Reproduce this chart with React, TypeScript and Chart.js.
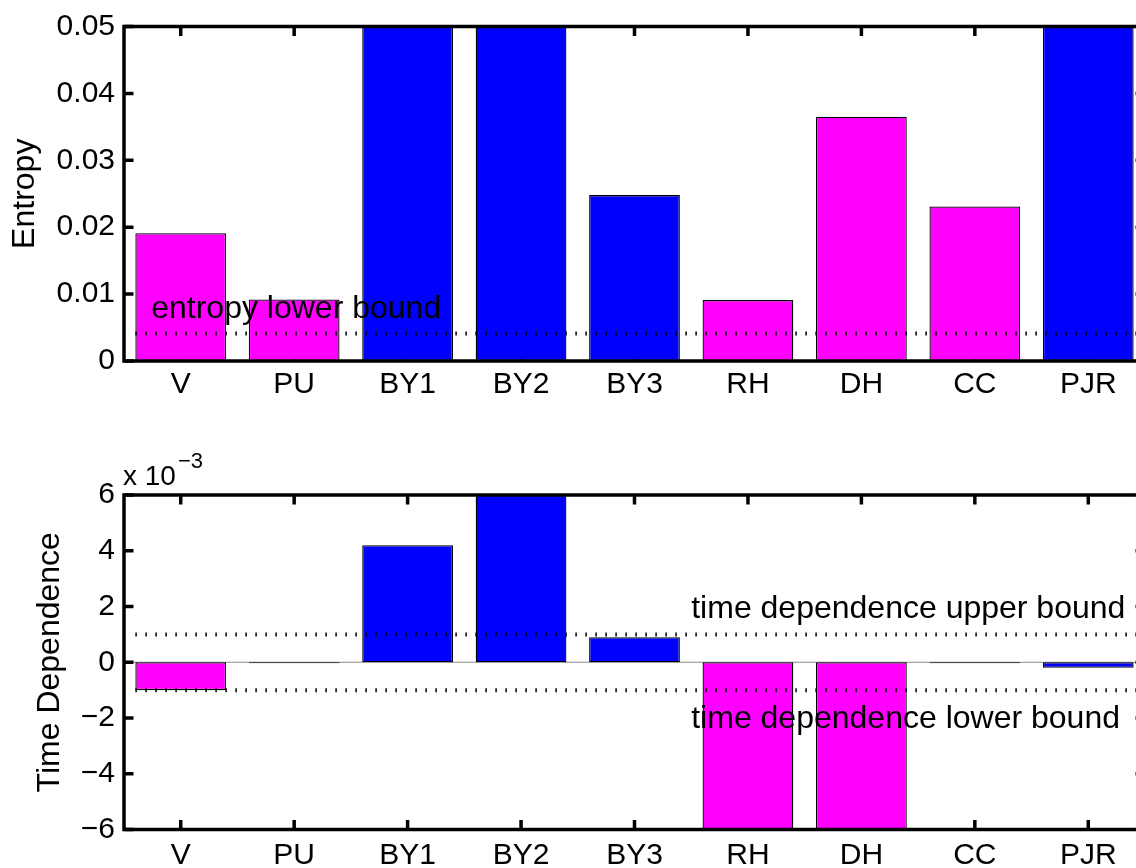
import React, { useEffect, useRef } from 'react';
import { Chart, registerables } from 'chart.js';

Chart.register(...registerables);

// ---------- data ----------
const categories = ['V', 'PU', 'BY1', 'BY2', 'BY3', 'RH', 'DH', 'CC', 'PJR'];
const barColors = ['#ff00ff', '#ff00ff', '#0000ff', '#0000ff', '#0000ff', '#ff00ff', '#ff00ff', '#ff00ff', '#0000ff'];

// entropy (BY1, BY2, PJR exceed the axis limit of 0.05)
const entropyValues = [0.0191, 0.0092, 0.062, 0.058, 0.0248, 0.0091, 0.0365, 0.0231, 0.071];
const entropyTicks = [0, 0.01, 0.02, 0.03, 0.04, 0.05];
const entropyLowerBound = 0.0041;

// time dependence (BY2, RH, DH exceed the axis limits of +/-6e-3)
const timeDependenceValues = [-0.001, -0.00004, 0.0042, 0.0068, 0.0009, -0.0071, -0.0069, -0.00004, -0.0002];
const timeDependenceTicks = [-0.006, -0.004, -0.002, 0, 0.002, 0.004, 0.006];
const timeUpperBound = 0.001;
const timeLowerBound = -0.001;

const FONT_FAMILY = '"Liberation Sans", Arial, Helvetica, sans-serif';

type TextItem = { text: string; x: number; y: number };

type PanelCfg = {
  values: number[];
  ticks: number[];
  min: number;
  max: number;
  title: string;
  titlePad: number;
  padTop: number;
  xHeight: number;
  xLabelPad: number;
  format: (v: number) => string;
  bounds: number[];
  boundStart: number;
  texts: TextItem[];
  baseline: boolean;
  exponent: boolean;
};

const entropyPanel: PanelCfg = {
  values: entropyValues,
  ticks: entropyTicks,
  min: 0,
  max: 0.05,
  title: 'Entropy',
  titlePad: 6,
  padTop: 26.5,
  xHeight: 73,
  xLabelPad: 6,
  format: (v) => (Math.abs(v) < 1e-12 ? '0' : v.toFixed(2)),
  bounds: [entropyLowerBound],
  boundStart: -0.4,
  texts: [{ text: 'entropy lower bound', x: -0.26, y: 0.00643 }],
  baseline: false,
  exponent: false,
};

const timePanel: PanelCfg = {
  values: timeDependenceValues,
  ticks: timeDependenceTicks,
  min: -0.006,
  max: 0.006,
  title: 'Time Dependence',
  titlePad: 30.5,
  padTop: 61,
  xHeight: 38.5,
  xLabelPad: 8.5,
  format: (v) => {
    const n = Math.round(v * 1000);
    return n < 0 ? '\u2212' + Math.abs(n) : String(n);
  },
  bounds: [timeUpperBound, timeLowerBound],
  boundStart: -0.4,
  texts: [
    { text: 'time dependence upper bound', x: 4.5, y: 0.00159 },
    { text: 'time dependence lower bound', x: 4.5, y: -0.00236 },
  ],
  baseline: true,
  exponent: true,
};

function makePlugin(cfg: PanelCfg) {
  const TICK = 9.5;
  const AXW = 3.5;
  return {
    id: 'matlabAxes',
    beforeDatasetsDraw(chart: any) {
      const { ctx, chartArea: a, scales } = chart;
      const x = scales.x;
      const y = scales.y;
      ctx.save();
      if (cfg.baseline) {
        const py = y.getPixelForValue(0);
        ctx.strokeStyle = '#8c8c8c';
        ctx.lineWidth = 1;
        ctx.beginPath();
        ctx.moveTo(a.left, py);
        ctx.lineTo(a.right, py);
        ctx.stroke();
      }
      ctx.strokeStyle = '#000';
      ctx.lineWidth = AXW;
      ctx.beginPath();
      y.ticks.forEach((t: any) => {
        const py = y.getPixelForValue(t.value);
        ctx.moveTo(a.left, py);
        ctx.lineTo(a.left + TICK, py);
        ctx.moveTo(a.right - TICK, py);
        ctx.lineTo(a.right, py);
      });
      categories.forEach((_, i) => {
        const px = x.getPixelForValue(i);
        ctx.moveTo(px, a.top);
        ctx.lineTo(px, a.top + TICK);
        ctx.moveTo(px, a.bottom - TICK);
        ctx.lineTo(px, a.bottom);
      });
      ctx.stroke();
      ctx.restore();
    },
    afterDatasetsDraw(chart: any) {
      const { ctx, chartArea: a, scales } = chart;
      const x = scales.x;
      const y = scales.y;
      ctx.save();
      // dotted bound lines
      ctx.strokeStyle = '#000';
      ctx.lineWidth = 4;
      ctx.setLineDash([1.5, 8.5]);
      cfg.bounds.forEach((b) => {
        const py = y.getPixelForValue(b);
        ctx.beginPath();
        ctx.moveTo(x.getPixelForValue(cfg.boundStart), py);
        ctx.lineTo(a.right, py);
        ctx.stroke();
      });
      ctx.setLineDash([]);
      // box
      ctx.lineWidth = AXW;
      ctx.strokeRect(a.left, a.top, a.right - a.left, a.bottom - a.top);
      // texts
      ctx.fillStyle = '#000';
      ctx.font = `32px ${FONT_FAMILY}`;
      ctx.textAlign = 'left';
      ctx.textBaseline = 'alphabetic';
      cfg.texts.forEach((t) => {
        ctx.fillText(t.text, x.getPixelForValue(t.x), y.getPixelForValue(t.y));
      });
      if (cfg.exponent) {
        ctx.font = `28px ${FONT_FAMILY}`;
        ctx.fillText('x 10', a.left - 1, a.top - 10);
        ctx.font = `22px ${FONT_FAMILY}`;
        ctx.fillText('\u22123', a.left + 54, a.top - 27);
      }
      ctx.restore();
    },
  };
}

function Panel({ cfg, top }: { cfg: PanelCfg; top: number }) {
  const ref = useRef<HTMLCanvasElement | null>(null);
  useEffect(() => {
    if (!ref.current) return;
    const chart = new Chart(ref.current, {
      type: 'bar',
      data: {
        labels: categories,
        datasets: [
          {
            data: cfg.values,
            backgroundColor: barColors,
            borderColor: '#000',
            borderWidth: 1.3,
            borderSkipped: false,
            barPercentage: 0.8,
            categoryPercentage: 1,
            clip: 0,
          } as any,
        ],
      },
      options: {
        animation: false,
        responsive: false,
        devicePixelRatio: 1,
        layout: { padding: { top: cfg.padTop, right: 15, left: 0, bottom: 0 } },
        plugins: { legend: { display: false }, tooltip: { enabled: false } },
        scales: {
          x: {
            grid: { display: false, drawTicks: false },
            border: { display: false },
            ticks: {
              color: '#000',
              font: { family: FONT_FAMILY, size: 30 },
              padding: cfg.xLabelPad,
              maxRotation: 0,
              autoSkip: false,
            },
            afterFit: (s: any) => {
              s.height = cfg.xHeight;
              s.paddingLeft = 0;
              s.paddingRight = 0;
            },
          },
          y: {
            min: cfg.min,
            max: cfg.max,
            grid: { display: false, drawTicks: false },
            border: { display: false },
            ticks: {
              color: '#000',
              font: { family: FONT_FAMILY, size: 30 },
              padding: 9,
              callback: (v: any) => cfg.format(Number(v)),
            },
            afterBuildTicks: (s: any) => {
              s.ticks = cfg.ticks.map((v) => ({ value: v }));
            },
            afterFit: (s: any) => {
              s.width = 124;
              s.paddingTop = 0;
              s.paddingBottom = 0;
            },
            title: {
              display: true,
              text: cfg.title,
              color: '#000',
              font: { family: FONT_FAMILY, size: 32 },
              padding: { top: cfg.titlePad, bottom: 0 },
            },
          },
        },
      } as any,
      plugins: [makePlugin(cfg)],
    });
    return () => chart.destroy();
  }, [cfg]);
  return (
    <canvas
      ref={ref}
      width={1160}
      height={434}
      style={{ position: 'absolute', left: 0, top, display: 'block' }}
    />
  );
}

export default function App() {
  useEffect(() => {
    document.body.style.margin = '0';
    document.body.style.overflow = 'hidden';
  }, []);
  return (
    <div style={{ position: 'relative', width: 1136, height: 868, overflow: 'hidden', background: '#fff' }}>
      <Panel cfg={entropyPanel} top={0} />
      <Panel cfg={timePanel} top={434} />
    </div>
  );
}
